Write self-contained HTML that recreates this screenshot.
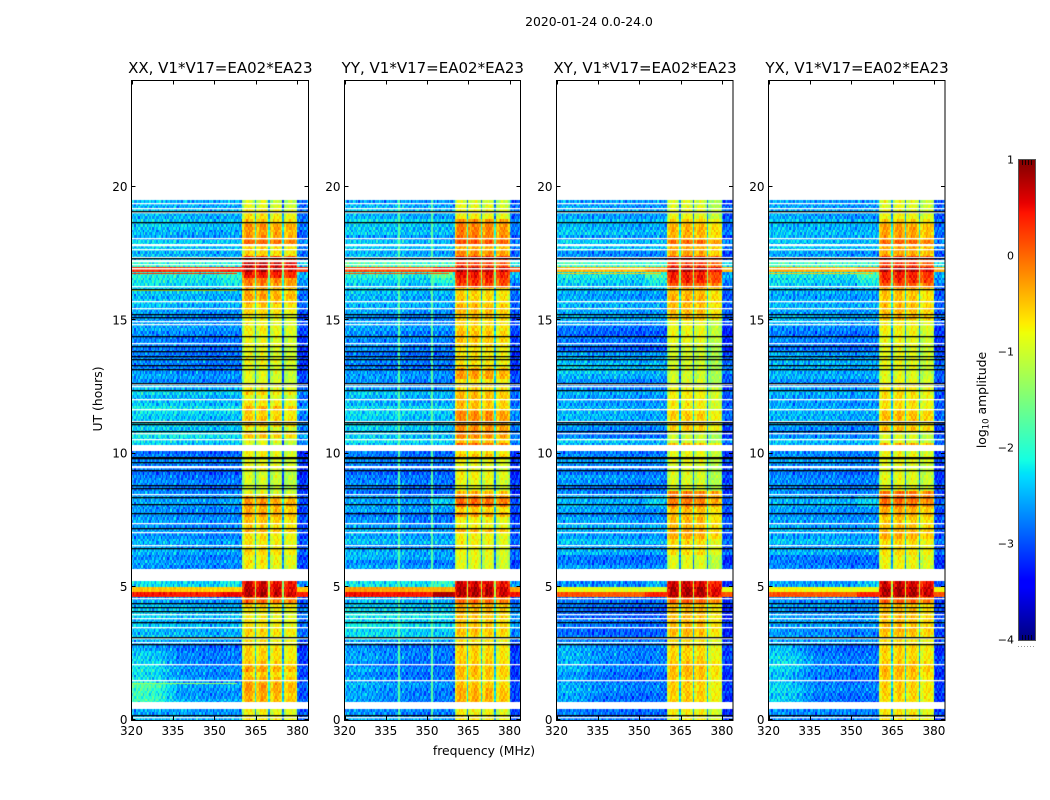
<!DOCTYPE html>
<html>
<head>
<meta charset="utf-8">
<title>2020-01-24 0.0-24.0</title>
<style>
html,body{margin:0;padding:0;background:#fff;}
#stage{position:relative;width:1050px;height:800px;overflow:hidden;background:#fff;}
canvas{position:absolute;display:block;}
svg{position:absolute;left:0;top:0;}
text{font-family:"DejaVu Sans","Liberation Sans",sans-serif;fill:#000;}
</style>
</head>
<body>
<div id="stage">
<svg id="axes" width="1050" height="800" viewBox="0 0 1050 800"></svg>
</div>
<script>
// ---- Chart data (log10 amplitude) ----
const panelTitles = ["XX, V1*V17=EA02*EA23","YY, V1*V17=EA02*EA23","XY, V1*V17=EA02*EA23","YX, V1*V17=EA02*EA23"];
const panelNames = ["xx","yy","xy","yx"];
const xTickValues = [320,335,350,365,380];
const yTickValues = [0,5,10,15,20];
const colorbarTicks = [1,0,-1,-2,-3,-4];

// level per 0.2 h time bin, 320-360 MHz
const lowXX = [-2.5,-2.6,-2.5,-2.5,-2.6,-2.6,-2.5,-2.6,-2.7,-2.6,-2.7,-2.7,-2.7,-2.8,-2.6,-2.4,-2.5,-2.4,-2.5,-2.4,-2.4,-2.5,-2.6,.4,-.5,-2.3,-2.5,-2.5,-2.7,-2.6,-2.7,-2.5,-2.6,-2.5,-2.7,-2.6,-2.7,-2.6,-2.7,-2.7,-2.6,-2.6,-2.7,-2.8,-2.7,-2.8,-2.9,-2.8,-2.7,-2.8,-2.9,-2.4,-2.3,-2.2,-2.4,-2.3,-2.4,-2.3,-2.2,-2.4,-2.5,-2.3,-2.5,-2.7,-2.6,-2.7,-2.8,-2.7,-2.8,-2.8,-2.7,-2.8,-2.7,-2.6,-2.6,-2.7,-2.6,-2.5,-2.4,-2.5,-2.4,-2.3,-2.2,-2.1,.3,-2,-2.4,-2.5,-2.4,-2.3,-2.6,-2.5,-2.4,-2.4,-2.5,-2.4,-2.5,-2.5];
const lowYY = [-2.6,-2.7,-2.6,-2.7,-2.7,-2.7,-2.6,-2.7,-2.8,-2.7,-2.8,-2.7,-2.7,-2.8,-2.6,-2.3,-2.3,-2.2,-2.3,-2.2,-2.3,-2.4,-2.5,.45,-.3,-2.2,-2.5,-2.5,-2.6,-2.7,-2.5,-2.5,-2.7,-2.4,-2.6,-2.5,-2.6,-2.7,-2.8,-2.6,-2.6,-2.6,-2.8,-2.8,-2.7,-2.8,-2.9,-2.8,-2.7,-2.8,-2.8,-2.4,-2.3,-2.4,-2.4,-2.3,-2.4,-2.3,-2.3,-2.5,-2.5,-2.4,-2.6,-2.7,-2.6,-2.7,-2.8,-2.7,-2.8,-2.7,-2.7,-2.7,-2.7,-2.6,-2.6,-2.7,-2.6,-2.5,-2.5,-2.5,-2.4,-2.4,-2.3,-2.1,.15,-1.8,-2.4,-2.5,-2.4,-2.4,-2.6,-2.4,-2.4,-2.3,-2.5,-2.4,-2.5,-2.6];
const lowXY = [-2.8,-2.8,-2.8,-2.8,-2.8,-2.7,-2.7,-2.8,-2.8,-2.7,-2.7,-2.7,-2.7,-2.7,-2.7,-2.8,-2.9,-2.8,-2.8,-2.9,-2.9,-2.8,-2.8,.1,-.9,-2.7,-2.6,-2.6,-2.6,-2.8,-2.8,-2.5,-2.6,-2.4,-2.6,-2.5,-2.5,-2.6,-2.7,-2.6,-2.5,-2.5,-2.7,-2.8,-2.7,-2.6,-2.8,-2.7,-2.6,-2.7,-2.8,-2.5,-2.4,-2.8,-2.7,-2.6,-2.5,-2.5,-2.5,-2.6,-2.6,-2.5,-2.7,-2.7,-2.5,-2.4,-2.4,-2.5,-2.6,-2.9,-2.8,-2.8,-2.9,-2.8,-2.6,-2.5,-2.6,-2.5,-2.5,-2.6,-2.5,-2.4,-2.3,-2.2,-.4,-1.9,-2.6,-2.7,-2.4,-2.4,-2.6,-2.4,-2.5,-2.4,-2.6,-2.5,-2.6,-2.6];
const lowYX = [-2.7,-2.7,-2.7,-2.8,-2.8,-2.7,-2.7,-2.8,-2.8,-2.7,-2.7,-2.7,-2.8,-2.8,-2.6,-2.6,-2.7,-2.6,-2.6,-2.6,-2.7,-2.6,-2.7,.1,-.8,-2.6,-2.6,-2.6,-2.7,-2.8,-2.8,-2.5,-2.6,-2.4,-2.6,-2.5,-2.6,-2.6,-2.7,-2.6,-2.5,-2.5,-2.7,-2.7,-2.7,-2.7,-2.8,-2.7,-2.6,-2.7,-2.7,-2.5,-2.4,-2.7,-2.7,-2.6,-2.5,-2.5,-2.5,-2.6,-2.6,-2.5,-2.6,-2.7,-2.5,-2.5,-2.5,-2.5,-2.6,-2.8,-2.8,-2.7,-2.8,-2.7,-2.5,-2.5,-2.6,-2.5,-2.5,-2.6,-2.5,-2.4,-2.3,-2.2,-.35,-1.9,-2.5,-2.6,-2.4,-2.4,-2.5,-2.4,-2.5,-2.4,-2.6,-2.5,-2.6,-2.6];

// level per 0.2 h time bin, 360-380 MHz
const bandXX = [-.6,-.7,-.6,-.3,-.3,-.2,-.2,-.3,-.5,-.2,-.4,-.5,-.5,-.5,-.6,-.6,-.5,-.6,-.6,-.7,-.6,-.5,.1,.85,.8,.7,-.8,-.8,-.7,-.6,-.7,-.5,-.6,-.6,-.6,-.3,-.5,-.4,-.2,-.3,-.15,-.2,-.8,-.9,-.9,-.85,-.9,-.7,-.8,-.7,-.7,-.9,-.8,-.4,-.8,-.4,-.4,-.5,-.3,-.6,-.8,-.5,-.7,-.8,-.85,-.8,-.8,-.7,-.8,-.8,-.7,-.8,-.7,-.7,-.7,-.7,-.5,-.5,-.3,-.2,-.3,-.1,0,.55,.85,.8,.4,-.5,-.5,.1,-.15,-.2,-.15,-.4,-.6,-.6,-.8,-.9];
const bandYY = [-.6,-.7,-.6,-.3,-.3,-.3,-.4,-.5,-.4,-.35,-.45,-.5,-.5,-.5,-.6,-.5,-.4,-.4,-.45,-.4,-.35,-.3,.1,.85,.85,.7,-.8,-.8,-.8,-.8,-.8,-.75,-.7,-.7,-.7,-.3,-.7,-.7,-.2,-.5,.1,.05,-.3,-.8,-.8,-.7,-.7,-.8,-.7,-.4,-.6,.05,-.4,-.1,-.1,-.1,-.1,-.1,-.4,-.4,-.35,-.35,-.5,-.6,-.2,-.2,-.6,-.6,-.6,-.6,-.5,-.4,-.4,-.5,-.5,-.4,-.35,-.35,-.5,-.5,-.5,.3,.4,.55,.85,.3,.5,-.1,-.3,.2,0,-.05,-.05,-.1,-.7,-.7,-.8,-.9];
const bandXY = [-.7,-.7,-.7,-.5,-.5,-.5,-.5,-.5,-.4,-.4,-.4,-.55,-.55,-.55,-.6,-.5,-.4,-.4,-.4,-.4,-.4,-.4,.1,.85,.85,.7,-.85,-.85,-.85,-.85,-.85,-.6,-.6,-.6,-.3,-.3,-.4,-.4,-.4,-.4,-.05,-.05,-.05,-.9,-.9,-.9,-.9,-.9,-.8,-.8,-.8,-.4,-1,-1,-.5,-.5,-.5,-.5,-.7,-.7,-.7,-.7,-.8,-.95,-.95,-.95,-.95,-.95,-.95,-.95,-.9,-.8,-.8,-.8,-.8,-.4,-.4,-.4,-.35,-.35,-.4,.1,.45,.45,.85,.3,.4,-.3,-.3,0,-.35,-.35,-.35,-.5,-.8,-.8,-.9,-.9];
const bandYX = [-.6,-.65,-.65,-.6,-.55,-.5,-.5,-.5,-.4,-.35,-.45,-.55,-.55,-.5,-.6,-.5,-.4,-.4,-.4,-.4,-.4,-.4,.1,.85,.85,.7,-.8,-.8,-.75,-.75,-.75,-.6,-.6,-.55,-.3,-.35,-.45,-.5,-.3,-.3,0,.05,0,-.8,-.85,-.8,-.85,-.85,-.75,-.75,-.8,-.3,-.9,-.9,-.4,-.5,-.4,-.4,-.6,-.6,-.6,-.6,-.7,-.8,-.85,-.85,-.8,-.8,-.85,-.85,-.8,-.8,-.75,-.7,-.7,-.4,-.4,-.4,-.45,-.45,-.4,.1,.4,.45,.85,.3,.4,-.3,-.3,.05,-.25,-.25,-.25,-.5,-.75,-.8,-.85,-.85];

// extra brightness at the low-frequency edge for the first 14 time bins
const leftLiftXX = [0,0,0,.6,.65,.7,.7,.4,.4,.4,.4,.35,.3,.2];
const leftLiftYY = [0,0,0,.1,.1,.1,.1,.1,.1,.15,.1,.1,.1,.1];
const leftLiftXY = [0,0,0,.2,.2,.2,.15,.15,.15,.2,.2,.15,.2,.15];
const leftLiftYX = [0,0,0,.4,.4,.4,.35,.35,.35,.35,.4,.4,.4,.35];

// spectral shape per 0.5 MHz bin
const lowShape = [.05,.1,-.05,.1,.05,0,.1,.1,-.05,.05,0,.1,.05,-.05,.1,.05,0,.05,-.05,.05,.1,0,-.05,.05,0,.05,-.1,0,.05,-.05,0,.05,-.05,0,-.1,.05,0,-.05,.05,-.05,0,-.05,.05,0,-.05,-.1,0,.05,-.1,0,-.05,-.1,0,-.05,-.1,-.05,0,-.1,-.05,-.1,-.15,-.1,-.05,-.1,-.05,-.1,0,-.05,-.1,-.05,0,-.05,-.05,0,-.05,-.1,-.05,-.1,-.05,-.15];
const leftWeight = [1,1,1,1,1,1,1,1,1,1,1,1,1,.95,.95,.9,.9,.85,.8,.8,.75,.7,.65,.6,.55,.5,.45,.4,.35,.3,.25,.2,.15,.1,.1,.05,.05,0,0,0];
const bandShape = [-.55,-.25,-.05,0,0,0,-.05,-.15,-.35,-1.9,-.15,-.3,-.1,0,.05,.05,0,-.1,-.3,-1.9,-.15,-.3,-.05,.05,.05,.05,0,-.05,-.3,-1.9,-.15,-.3,-.05,0,.05,.05,.05,0,-.05,-.3];
const highShape = [-.25,-.4,-.45,-.45,-.4,-.4,-.35,-.3];
const subGainXX = [0,-.05,-.15,-.25];
const subGainYY = [0,-.05,-.1,-.2];
const subGainXY = [0,0,-.05,-.3];
const subGainYX = [0,0,-.05,-.2];

// time bin / lift pairs for the brighter patch just below the band edge
const rightLiftBins = [23,25,40,41,81,82,83,84];
const rightLiftValues = [.4,.3,.25,.25,.2,.35,.5,.3];
const rightLiftGain = [.4,1,.8,.8];

// narrow interference channels (MHz) and brief bright rows (hour, level)
const spurFreqsYY = [339.5,351.5];
const spurLevel = -1.7;
const hotHoursXX = [16.13,1.37,16.77];
const hotLevelsXX = [-1,-1.3,.3];
const hotHoursYY = [16.3,16.77];
const hotLevelsYY = [-1.25,.1];
const hotHoursXY = [16.3,16.77];
const hotLevelsXY = [-1.25,-.5];
const hotHoursYX = [16.3,16.77];
const hotLevelsYX = [-1.25,-.5];

// flagged times (hours): blank ranges, thin blank rows and dropped (black) rows
const blankStarts = [.41,5.21,10.09,19.5];
const blankEnds = [.67,5.68,10.31,24];
const whiteHours = [19.39,19.22,19.08,18.08,17.85,17.82,17.67,17.37,17.27,17.21,17.11,16.95,16.98,16.28,15.71,15.47,14.97,14.87,14.16,12.6,12.52,12.05,11.69,11.22,10.76,10.55,9.52,9.49,8.5,7.41,7.04,6.57,4.56,3.96,3.84,3.48,3.06,2.94,2.09,1.49,.11];
const blackHours = [19.11,18.7,17.33,16.16,15.22,15.12,14.4,14.02,13.85,13.67,13.54,13.31,13.19,12.65,12.4,11.18,11.1,10.84,9.88,9.83,9.7,9.37,8.82,8.71,8.36,8.1,7.77,7.22,6.44,4.38,4.25,4.1,3.69,3.12,2.84,.18];

// fine-grain bin-to-bin scatter (tenths of a dex)
const mottle = [
[1,-2,3,-1,0,2,-3,1,-1,4,-2,0,2,-1,-3,1,3,-2,0],
[-3,0,1,-2,3,-1,2,0,-4,1,2,-1,-2,3,0,-1,1,2,-3],
[2,1,-1,0,-2,3,-1,-3,2,0,-1,3,1,-2,2,-4,0,1,-1],
[-1,3,-4,2,1,-1,0,2,-2,-1,3,-3,0,1,-1,2,-2,3,1],
[0,-2,2,1,-3,0,3,-1,1,2,-3,1,-1,-2,4,0,-1,-2,2],
[3,-1,0,-3,2,1,-2,4,-1,-3,0,2,-2,1,-1,3,1,-3,0],
[-2,1,-1,3,0,-4,1,-1,3,0,-2,-1,3,-1,2,-2,0,2,-1],
[1,-3,2,0,-1,2,-2,0,1,-2,4,0,-3,2,0,1,-3,1,3],
[0,2,-2,-1,4,-1,1,-3,0,3,-1,-2,1,0,-2,3,-1,-1,2],
[-4,1,3,-2,0,1,-1,2,-3,1,0,2,-1,-3,1,0,2,-2,1],
[2,-1,0,1,-3,3,0,-2,2,-1,-2,1,3,-1,-4,2,-1,0,-2],
[-1,0,-3,2,1,-2,3,1,-1,0,2,-4,1,2,-1,-2,3,-1,1],
[1,3,-1,-2,2,0,-3,1,2,-2,1,0,-1,3,-2,1,0,-3,2]
];

// ---- layout ----
const frameLeft = [131.5,344.5,556.5,768.5];
const frameRight = [308.5,520.5,733,945];
const frameTop = 80.5;
const frameBottom = 720;
const lowRows = [lowXX,lowYY,lowXY,lowYX];
const bandRows = [bandXX,bandYY,bandXY,bandYX];
const leftLifts = [leftLiftXX,leftLiftYY,leftLiftXY,leftLiftYX];
const subGains = [subGainXX,subGainYY,subGainXY,subGainYX];
const spurs = [[],spurFreqsYY,[],[]];
const hotHours = [hotHoursXX,hotHoursYY,hotHoursXY,hotHoursYX];
const hotLevels = [hotLevelsXX,hotLevelsYY,hotLevelsXY,hotLevelsYX];

function xScale(p, mhz){ return frameLeft[p] + (mhz-320)*(frameRight[p]-frameLeft[p])/64; }
function yScale(h){ return frameBottom - h*(frameBottom-frameTop)/24; }
function cbScale(v){ return 640 - (v+4)*96; }

function lerpTable(t, xs, ys){
  if(t<=xs[0]) return ys[0];
  for(let i=1;i<xs.length;i++){
    if(t<=xs[i]) return ys[i-1]+(ys[i]-ys[i-1])*(t-xs[i-1])/(xs[i]-xs[i-1]);
  }
  return ys[ys.length-1];
}
function jet(v){
  const t=Math.max(0,Math.min(1,(v+4)/5));
  const r=lerpTable(t,[0,.35,.66,.89,1],[0,0,1,1,.5]);
  const g=lerpTable(t,[0,.125,.375,.64,.91,1],[0,0,1,1,0,0]);
  const b=lerpTable(t,[0,.11,.34,.65,1],[.5,1,1,0,0]);
  return 'rgb('+Math.round(r*255)+','+Math.round(g*255)+','+Math.round(b*255)+')';
}

function cellValue(p, row, sub, bin){
  const low=lowRows[p][row], band=bandRows[p][row];
  const n=mottle[(row*2+sub+p*3)%mottle.length][(bin+p*5)%mottle[0].length]*0.13;
  let v;
  if(bin<80){
    v=low+(lowShape[bin]||0);
    if(row<leftLifts[p].length && bin<leftWeight.length) v+=leftLifts[p][row]*leftWeight[bin];
    if(bin>=64){
      const k=rightLiftBins.indexOf(row);
      if(k>=0) v+=rightLiftValues[k]*rightLiftGain[p];
    }
    v+=(low>-1?n*0.25:n);
    const f=320+bin*0.5;
    if(spurs[p].indexOf(f)>=0 && low<-1) v=Math.max(v,spurLevel);
  } else if(bin<120){
    const b=bin-80;
    v=band+bandShape[b]+subGains[p][Math.min(3,Math.floor(b/10))]+n*0.6;
  } else {
    v=low>-1 ? low+n*0.25 : low+highShape[bin-120]+n;
  }
  return v;
}

const stage=document.getElementById('stage');
const svg=document.getElementById('axes');
const NS='http://www.w3.org/2000/svg';
function mk(tag,attrs,parent){
  const e=document.createElementNS(NS,tag);
  for(const k in attrs) e.setAttribute(k,attrs[k]);
  (parent||svg).appendChild(e);
  return e;
}
function flagLine(ctx,y,W){
  const yy=Math.round(y);
  ctx.globalAlpha=1;
  ctx.fillRect(0,yy,W,1);
  ctx.globalAlpha=0.3;
  ctx.fillRect(0,yy+1,W,1);
  ctx.globalAlpha=1;
}

// heatmaps
for(let p=0;p<4;p++){
  const L=Math.floor(frameLeft[p]), T=Math.floor(frameTop);
  const W=Math.ceil(frameRight[p])-L, H=Math.ceil(frameBottom)-T;
  const c=document.createElement('canvas');
  
  
  c.width=W; c.height=H;
  c.style.left=L+'px'; c.style.top=T+'px';
  stage.insertBefore(c,svg);
  const ctx=c.getContext('2d');
  ctx.fillStyle='#fff'; ctx.fillRect(0,0,W,H);
  const nRows=lowRows[p].length;
  for(let r=0;r<nRows;r++){
    for(let s=0;s<2;s++){
      const hA=r*0.2+s*0.1, hB=hA+0.1;
      const yA=Math.round(yScale(hB))-T, yB=Math.round(yScale(hA))-T;
      for(let b=0;b<128;b++){
        const xA=Math.round(xScale(p,320+b*0.5))-L, xB=Math.round(xScale(p,320+(b+1)*0.5))-L;
        ctx.fillStyle=jet(cellValue(p,r,s,b));
        ctx.fillRect(xA,yA,xB-xA,yB-yA);
      }
    }
  }
  // bright rows
  for(let i=0;i<hotHours[p].length;i++){
    ctx.fillStyle=jet(hotLevels[p][i]);
    ctx.fillRect(0,Math.round(yScale(hotHours[p][i]))-T,Math.round(xScale(p,358))-L,1);
  }
  // flags
  ctx.fillStyle='#fff';
  for(let i=0;i<blankStarts.length;i++){
    const yA=Math.round(yScale(blankEnds[i]))-T, yB=Math.round(yScale(blankStarts[i]))-T;
    ctx.fillRect(0,yA,W,yB-yA);
  }
  for(let i=0;i<whiteHours.length;i++){
    flagLine(ctx,yScale(whiteHours[i])-T,W);
  }
  ctx.fillStyle='#000';
  for(let i=0;i<blackHours.length;i++){
    flagLine(ctx,yScale(blackHours[i])-T,W);
  }
}

// axes frames, ticks and labels
const TICK_FONT=12, TITLE_FONT=15, LABEL_FONT=12.4;
for(let p=0;p<4;p++){
  const g=mk('g',{});
  
  
  const frame=mk('rect',{x:frameLeft[p],y:frameTop,width:frameRight[p]-frameLeft[p],height:frameBottom-frameTop+0.5,fill:'none',stroke:'#000','stroke-width':1},g);
  
  
  const title=mk('text',{x:(frameLeft[p]+frameRight[p])/2+0.3,y:73,'font-size':TITLE_FONT,'text-anchor':'middle'},g);
  title.textContent=panelTitles[p];
  
  
  for(let i=0;i<xTickValues.length;i++){
    const x=Math.round(xScale(p,xTickValues[i]))+0.5;
    mk('line',{x1:x,x2:x,y1:frameBottom,y2:frameBottom-4,stroke:'#000','stroke-width':1},g);
    mk('line',{x1:x,x2:x,y1:frameTop,y2:frameTop+4,stroke:'#000','stroke-width':1},g);
    const t=mk('text',{x:xScale(p,xTickValues[i]),y:735,'font-size':TICK_FONT,'text-anchor':'middle'},g);
    t.textContent=xTickValues[i];
    
    
  }
  for(let i=0;i<yTickValues.length;i++){
    const y=Math.round(yScale(yTickValues[i]))-0.5;
    mk('line',{x1:frameLeft[p],x2:frameLeft[p]+4,y1:y,y2:y,stroke:'#000','stroke-width':1},g);
    mk('line',{x1:frameRight[p],x2:frameRight[p]-4,y1:y,y2:y,stroke:'#000','stroke-width':1},g);
    const t=mk('text',{x:frameLeft[p]-4,y:yScale(yTickValues[i])+4,'font-size':TICK_FONT,'text-anchor':'end'},g);
    t.textContent=yTickValues[i];
    
    
  }
}

// figure labels
const supTitle=mk('text',{x:589,y:26,'font-size':12.4,'text-anchor':'middle'});
supTitle.textContent='2020-01-24 0.0-24.0';



const xLabel=mk('text',{x:484,y:755,'font-size':LABEL_FONT,'text-anchor':'middle'});
xLabel.textContent='frequency (MHz)';



const yLabel=mk('text',{x:0,y:0,'font-size':LABEL_FONT,'text-anchor':'middle',transform:'translate(102,399) rotate(-90)'});
yLabel.textContent='UT (hours)';



// colorbar
const cbX=1019, cbW=16;
const cbGroup=mk('g',{});


for(let py=160;py<640;py++){
  const val=-4+(640-py-0.5)/96;
  mk('rect',{x:cbX,y:py,width:cbW,height:1,fill:jet(val)},cbGroup);
}
mk('rect',{x:cbX-0.5,y:159.5,width:cbW+1,height:481,fill:'none',stroke:'#555','stroke-width':1},cbGroup);
const cbTickX=[1022.5,1025.5,1028.5,1031.5];
for(let i=0;i<cbTickX.length;i++){
  mk('line',{x1:cbTickX[i],x2:cbTickX[i],y1:160,y2:165,stroke:'#000','stroke-width':1,opacity:.8},cbGroup);
  mk('line',{x1:cbTickX[i],x2:cbTickX[i],y1:635,y2:640,stroke:'#000','stroke-width':1,opacity:.8},cbGroup);
}
for(let i=0;i<colorbarTicks.length;i++){
  const t=mk('text',{x:1014,y:cbScale(colorbarTicks[i])+3.5,'font-size':11,'text-anchor':'end'},cbGroup);
  t.textContent=String(colorbarTicks[i]).replace('-','\u2212');
  
  
}
mk('line',{x1:1018,x2:1036,y1:646.5,y2:646.5,stroke:'#999','stroke-width':1,'stroke-dasharray':'1 2'},cbGroup);

const cbLabel=mk('text',{x:0,y:0,'font-size':LABEL_FONT,'text-anchor':'middle',transform:'translate(986,400) rotate(-90)'},cbGroup);


const s1=mk('tspan',{},cbLabel); s1.textContent='log';
const s2=mk('tspan',{dy:2.5,'font-size':8.5},cbLabel); s2.textContent='10';
const s3=mk('tspan',{dy:-2.5},cbLabel); s3.textContent=' amplitude';
</script>
</body>
</html>
